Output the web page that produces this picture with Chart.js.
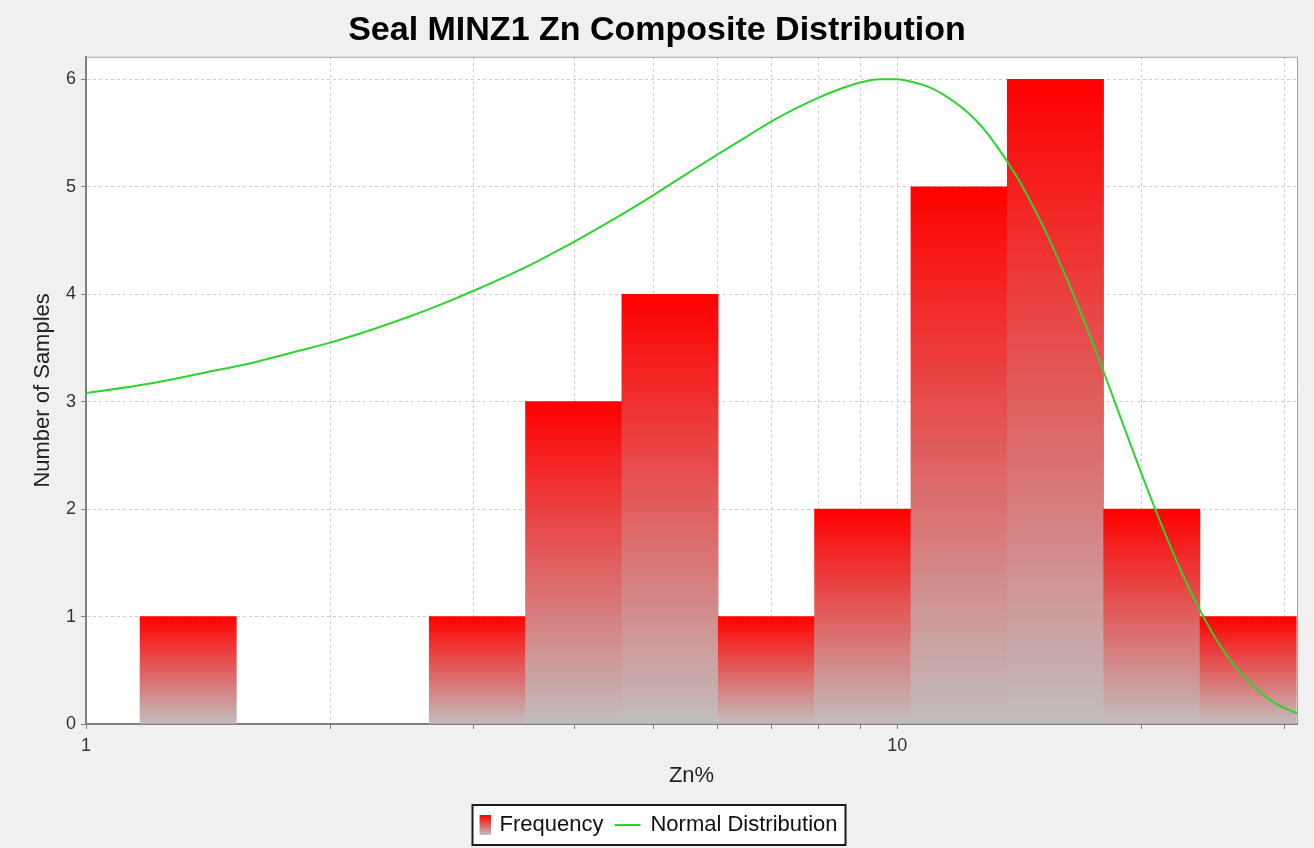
<!DOCTYPE html>
<html>
<head>
<meta charset="utf-8">
<script src="https://cdn.jsdelivr.net/npm/chart.js@4.4.1/dist/chart.umd.min.js"></script>
<style>
  html, body { margin: 0; padding: 0; background: #f0f0f0; overflow: hidden; }
  #wrap { width: 1314px; height: 848px; }
</style>
</head>
<body>
<div id="wrap"><canvas id="c" width="1314" height="848"></canvas></div>
<script>
// Histogram bins (Zn %, log-spaced edges) and sample counts per bin
const binEdges = [1.166, 1.532, 2.015, 2.649, 3.482, 4.576, 6.016, 7.908, 10.395, 13.665, 17.963, 23.614, 31.04];
const frequency = [1, 0, 0, 1, 3, 4, 1, 2, 5, 6, 2, 1];

// Normal distribution curve, sampled along Zn %
const curveZn = [1, 1.2, 1.4, 1.6, 1.8, 2, 2.25, 2.5, 2.75, 3, 3.5, 4, 4.5, 5, 5.5, 6, 6.5, 7, 7.5, 8, 8.5, 9, 9.5, 9.8,
                 10, 10.5, 11, 11.5, 12, 12.5, 13, 14, 15, 16, 17, 18, 19, 20, 21, 22, 23, 24, 25, 26, 27, 28, 29, 30, 31.1];
const curveCount = [3.08, 3.17, 3.27, 3.36, 3.46, 3.55, 3.67, 3.79, 3.91, 4.03, 4.26, 4.49, 4.71, 4.92, 5.12, 5.30, 5.46, 5.61, 5.73, 5.83, 5.91, 5.97, 6.00, 6.00,
                    6.00, 5.97, 5.92, 5.84, 5.74, 5.62, 5.47, 5.11, 4.69, 4.23, 3.75, 3.26, 2.78, 2.33, 1.92, 1.55, 1.23, 0.96, 0.73, 0.55, 0.41, 0.30, 0.21, 0.15, 0.10];

// Axis ticks
const xTickValues = [1, 2, 3, 4, 5, 6, 7, 8, 9, 10, 20, 30];
const xTickLabels = { 1: '1', 10: '10' };
const yTickValues = [0, 1, 2, 3, 4, 5, 6];

const FONT = "'Liberation Sans', Arial, Helvetica, sans-serif";
Chart.defaults.font.family = FONT;

const BAR_TOP = 'rgb(255,0,0)';
const BAR_BASE = 'rgb(194,190,190)';
const CURVE = 'rgb(45,212,45)';

// Legend swatches (drawn centred on the legend box)
function makeFreqSwatch() {
  const c = document.createElement('canvas');
  c.width = 28; c.height = 20;
  const g = c.getContext('2d');
  const gr = g.createLinearGradient(0, 0, 0, 20);
  gr.addColorStop(0, BAR_TOP); gr.addColorStop(1, BAR_BASE);
  g.fillStyle = gr;
  g.fillRect(17, 0, 11, 20);
  return c;
}
function makeLineSwatch() {
  const c = document.createElement('canvas');
  c.width = 28; c.height = 20;
  const g = c.getContext('2d');
  g.strokeStyle = CURVE; g.lineWidth = 2;
  g.beginPath(); g.moveTo(1, 10); g.lineTo(27, 10); g.stroke();
  return c;
}
const freqSwatch = makeFreqSwatch();
const lineSwatch = makeLineSwatch();

const barPoints = frequency.map((v, i) => ({ x: Math.sqrt(binEdges[i] * binEdges[i + 1]), y: v }));
const curvePoints = curveZn.map((x, i) => ({ x, y: curveCount[i] }));

const framePlugin = {
  id: 'frame',
  afterLayout(chart) {
    // nudge the legend row slightly left so it sits centred under the plot
    const lg = chart.legend;
    if (lg) { lg.left -= 6; lg.right -= 6; }
  },
  beforeDraw(chart) {
    const { ctx, chartArea: a } = chart;
    ctx.save();
    ctx.fillStyle = '#f0f0f0';
    ctx.fillRect(0, 0, chart.width, chart.height);
    ctx.fillStyle = '#ffffff';
    ctx.fillRect(a.left, a.top, a.right - a.left, a.bottom - a.top);
    const lg = chart.legend;
    if (lg && lg.legendHitBoxes && lg.legendHitBoxes.length) {
      const hb = lg.legendHitBoxes;
      const l = Math.min(...hb.map(b => b.left)) + 8;
      const r = Math.max(...hb.map(b => b.left + b.width)) + 8;
      const t = Math.min(...hb.map(b => b.top)) - 9;
      const btm = Math.max(...hb.map(b => b.top + b.height)) + 9;
      ctx.fillStyle = '#ffffff';
      ctx.fillRect(l, t, r - l, btm - t);
      ctx.strokeStyle = '#1a1a1a';
      ctx.lineWidth = 2;
      ctx.strokeRect(l, t, r - l, btm - t);
    }
    ctx.restore();
  },
  afterDraw(chart) {
    const { ctx, chartArea: a } = chart;
    ctx.save();
    ctx.strokeStyle = '#a0a0a0';
    ctx.lineWidth = 1;
    ctx.beginPath();
    ctx.moveTo(a.left, a.top + 0.5);
    ctx.lineTo(a.right + 0.5, a.top + 0.5);
    ctx.lineTo(a.right + 0.5, a.bottom);
    ctx.stroke();
    ctx.restore();
  }
};

new Chart(document.getElementById('c'), {
  type: 'bar',
  data: {
    datasets: [
      {
        type: 'line',
        label: 'Normal Distribution',
        data: curvePoints,
        xAxisID: 'x',
        yAxisID: 'y',
        borderColor: CURVE,
        borderWidth: 2,
        pointRadius: 0,
        fill: false,
        cubicInterpolationMode: 'monotone'
      },
      {
        type: 'bar',
        label: 'Frequency',
        data: barPoints,
        xAxisID: 'xb',
        yAxisID: 'y',
        grouped: false,
        barPercentage: 1,
        categoryPercentage: 1,
        borderWidth: 0,
        backgroundColor(ctx) {
          const chart = ctx.chart;
          if (!chart.chartArea || ctx.type !== 'data') return BAR_TOP;
          const v = ctx.parsed ? ctx.parsed.y : ctx.raw.y;
          if (!v) return 'rgba(0,0,0,0)';
          const ys = chart.scales.y;
          const top = ys.getPixelForValue(v);
          const base = ys.getPixelForValue(0);
          if (!isFinite(top) || base - top < 1) return BAR_TOP;
          const g = chart.ctx.createLinearGradient(0, top, 0, base);
          g.addColorStop(0, BAR_TOP);
          g.addColorStop(1, BAR_BASE);
          return g;
        }
      }
    ]
  },
  options: {
    responsive: false,
    animation: false,
    layout: { padding: { left: 17, right: 17, top: 0, bottom: 2 } },
    plugins: {
      title: {
        display: true,
        text: 'Seal MINZ1 Zn Composite Distribution',
        color: '#000000',
        font: { family: FONT, size: 34, weight: 'bold' },
        padding: { top: 10, bottom: 6 }
      },
      legend: {
        position: 'bottom',
        labels: {
          usePointStyle: true,
          pointStyleWidth: 24,
          boxHeight: 20,
          padding: 12,
          color: '#111111',
          font: { family: FONT, size: 22 },
          generateLabels() {
            return [
              { text: 'Frequency', pointStyle: freqSwatch, datasetIndex: 1, hidden: false, fillStyle: 'transparent', strokeStyle: 'transparent', lineWidth: 0, fontColor: '#111111' },
              { text: 'Normal Distribution', pointStyle: lineSwatch, datasetIndex: 0, hidden: false, fillStyle: 'transparent', strokeStyle: 'transparent', lineWidth: 0, fontColor: '#111111' }
            ];
          }
        }
      },
      tooltip: { enabled: false }
    },
    scales: {
      x: {
        type: 'logarithmic',
        position: 'bottom',
        min: 1,
        max: 31.1,
        offset: false,
        afterBuildTicks(scale) { scale.ticks = xTickValues.map(v => ({ value: v })); },
        afterFit(scale) { scale.height = 78; },
        ticks: {
          autoSkip: false,
          maxRotation: 0,
          padding: 6,
          color: '#333333',
          font: { family: FONT, size: 18 },
          callback(value) { return xTickLabels[value] || ''; }
        },
        grid: { color: '#cccccc', tickColor: '#808080', tickLength: 5, offset: false },
        border: { display: true, color: '#808080', width: 2, dash: [3, 3] },
        title: {
          display: true,
          text: 'Zn%',
          color: '#222222',
          font: { family: FONT, size: 22 },
          padding: { top: 0, bottom: 13 }
        }
      },
      xb: {
        type: 'logarithmic',
        display: false,
        min: 1,
        max: 31.1,
        offset: false,
        grid: { offset: false },
        afterBuildTicks(scale) { scale.ticks = []; }
      },
      y: {
        type: 'linear',
        position: 'left',
        min: 0,
        max: 6.21,
        afterBuildTicks(scale) { scale.ticks = yTickValues.map(v => ({ value: v })); },
        afterFit(scale) { scale.width = 69; },
        ticks: {
          padding: 5,
          color: '#333333',
          font: { family: FONT, size: 18 }
        },
        grid: { color: '#cccccc', tickColor: '#808080', tickLength: 5 },
        border: { display: true, color: '#808080', width: 2, dash: [3, 3] },
        title: {
          display: true,
          text: 'Number of Samples',
          color: '#222222',
          font: { family: FONT, size: 22 },
          padding: { top: 13, bottom: 0 }
        }
      }
    }
  },
  plugins: [framePlugin]
});
</script>
</body>
</html>
